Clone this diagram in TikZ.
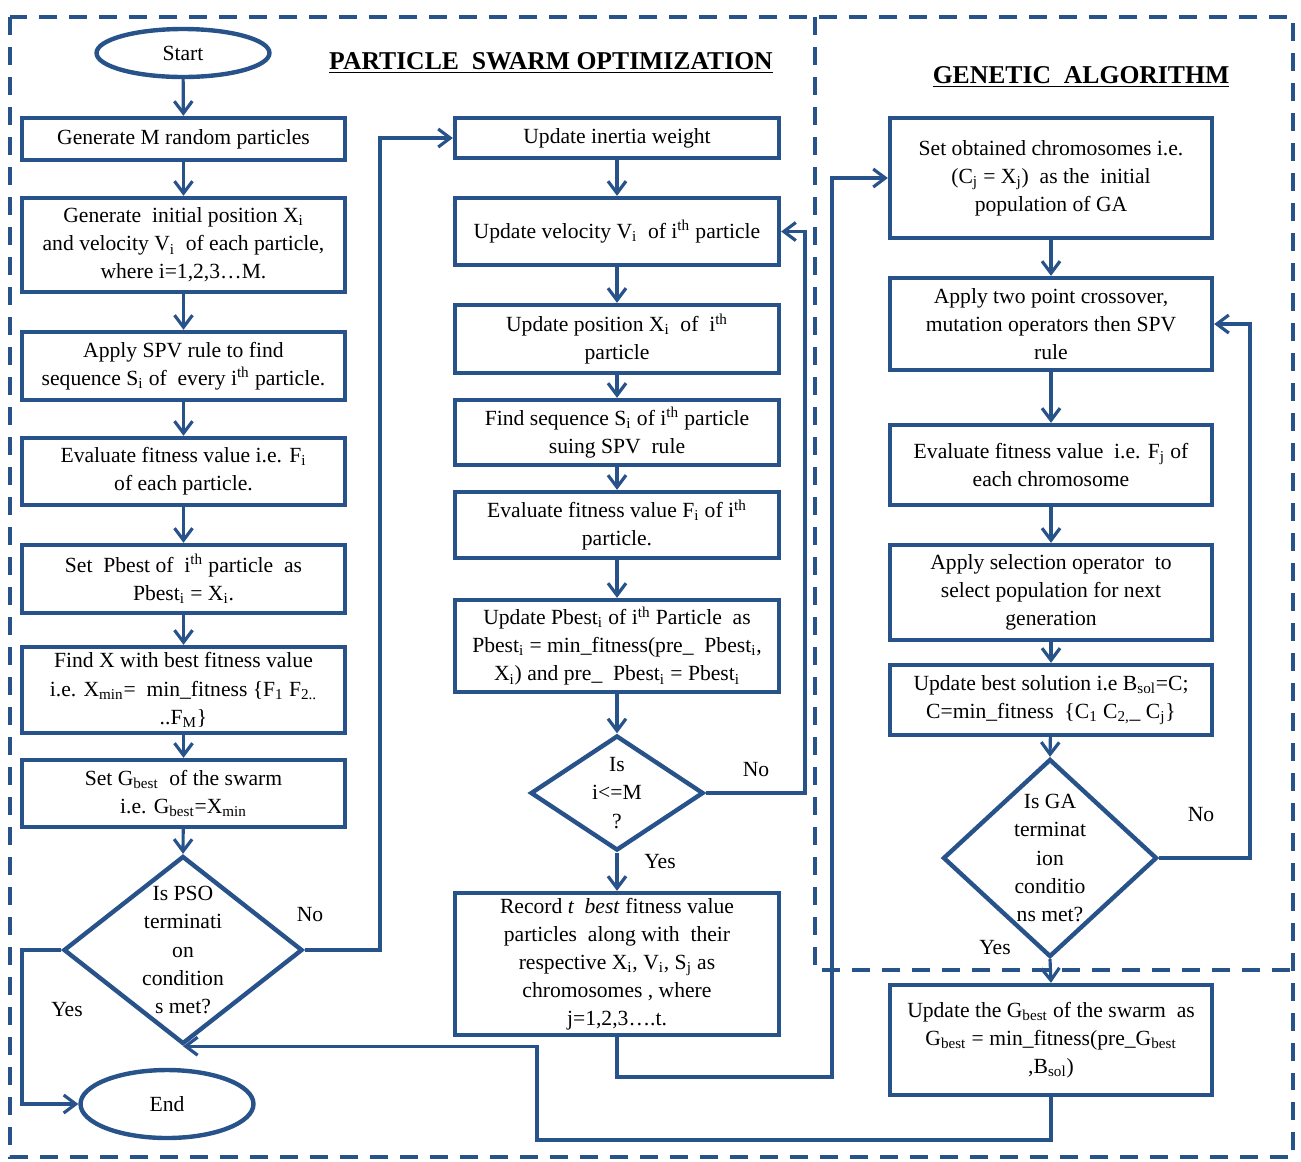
\documentclass[tikz,border=0pt]{standalone}
\usepackage{fontspec}
\setmainfont{Liberation Serif}
\usetikzlibrary{arrows.meta,shapes.geometric}
\definecolor{fb}{RGB}{40,82,138}
\begin{document}
\begin{tikzpicture}[x=0.02cm,y=-0.02cm,
  txt/.style={font=\fontsize{12.3}{16}\selectfont,align=center},
  box/.style={draw=fb,line width=2.5pt,txt,inner sep=1pt},
  lbox/.style={box,minimum width=6.46cm},
  mbox/.style={box,minimum width=6.48cm},
  rbox/.style={box,minimum width=6.44cm},
  term/.style={draw=fb,line width=2.5pt,ellipse,txt,inner sep=0pt,minimum width=3.46cm},
  dia/.style={draw=fb,line width=2.5pt,diamond,inner sep=0pt},
  conn/.style={draw=fb,line width=1.8pt,-{Straight Barb[length=0.24cm,width=0.36cm]}},
  frame/.style={draw=fb,line width=2.4pt,dash pattern=on 0.36cm off 0.24cm},
  title/.style={font=\fontsize{14.6}{16}\selectfont\bfseries},
  lab/.style={font=\fontsize{12.3}{14}\selectfont}]
\useasboundingbox (0,0) rectangle (1301,1161);
% frames
\draw[frame] (10,17) rectangle (1293,1157);
\draw[frame] (815,17) -- (815,970) -- (1293,970);
% titles
\node[title] (t1) at (551,63) {\underline{PARTICLE\ \ SWARM OPTIMIZATION}};
\node[title] (t2) at (1081,77) {\underline{GENETIC\ \ ALGORITHM}};
% left column
\node[term,minimum height=0.96cm] (start) at (183,53) {Start};
\node[lbox,minimum height=0.84cm] (b1) at (183.5,139) {Generate M random particles};
\node[lbox,minimum height=1.88cm] (b2) at (183.5,245) {Generate \ initial position X\textsubscript{i}\\ and velocity V\textsubscript{i} \ of each particle,\\ where i=1,2,3…M.};
\node[lbox,minimum height=1.36cm] (b3) at (183.5,366) {Apply SPV rule to find\\ sequence S\textsubscript{i} of \ every i\textsuperscript{th} particle.};
\node[lbox,minimum height=1.34cm] (b4) at (183.5,471.5) {Evaluate fitness value i.e. F\textsubscript{i}\\ of each particle.};
\node[lbox,minimum height=1.36cm] (b5) at (183.5,579) {Set \ Pbest of \ i\textsuperscript{th} particle \ as\\ Pbest\textsubscript{i} = X\textsubscript{i}.};
\node[lbox,minimum height=1.72cm] (b6) at (183.5,690) {Find X with best fitness value\\ i.e. X\textsubscript{min}= \ min\_fitness \{F\textsubscript{1} F\textsubscript{2..}\\ ..F\textsubscript{M}\}};
\node[lbox,minimum height=1.34cm] (b7) at (183.5,793.5) {Set G\textsubscript{best} \ of the swarm\\ i.e. G\textsubscript{best}=X\textsubscript{min}};
\node[dia,minimum width=4.78cm,minimum height=3.76cm] (d1) at (183,950) {};
\node[txt] (d1t) at (183,950) {Is PSO\\ terminati\\ on\\ condition\\ s met?};
\node[term,minimum height=1.36cm] (end) at (167,1104) {End};
% middle column
\node[mbox,minimum height=0.80cm] (m1) at (617,138) {Update inertia weight};
\node[mbox,minimum height=1.34cm] (m2) at (617,231.5) {Update velocity V\textsubscript{i} \ of i\textsuperscript{th} particle};
\node[mbox,minimum height=1.36cm] (m3) at (617,339) {Update position X\textsubscript{i} \ of \ i\textsuperscript{th}\\ particle};
\node[mbox,minimum height=1.30cm] (m4) at (617,432.5) {Find sequence S\textsubscript{i} of i\textsuperscript{th} particle\\ suing SPV \ rule};
\node[mbox,minimum height=1.32cm] (m5) at (617,525) {Evaluate fitness value F\textsubscript{i} of i\textsuperscript{th}\\ particle.};
\node[mbox,minimum height=1.84cm] (m6) at (617,646) {Update Pbest\textsubscript{i} of i\textsuperscript{th} Particle \ as\\ Pbest\textsubscript{i} = min\_fitness(pre\_ \ Pbest\textsubscript{i},\\ X\textsubscript{i}) and pre\_ \ Pbest\textsubscript{i} = Pbest\textsubscript{i}};
\node[dia,minimum width=3.46cm,minimum height=2.30cm] (d2) at (617,793) {};
\node[txt] (d2t) at (617,793) {Is\\ i<=M\\ ?};
\node[mbox,minimum height=2.84cm] (m7) at (617,964) {Record \textit{t \ best} fitness value\\ particles \ along with \ their\\ respective X\textsubscript{i}, V\textsubscript{i}, S\textsubscript{j} as\\ chromosomes , where\\ j=1,2,3….t.};
% right column
\node[rbox,minimum height=2.40cm] (r1) at (1051,178) {Set obtained chromosomes i.e.\\ (C\textsubscript{j} = X\textsubscript{j}) \ as the \ initial\\ population of GA};
\node[rbox,minimum height=1.84cm] (r2) at (1051,324) {Apply two point crossover,\\ mutation operators then SPV\\ rule};
\node[rbox,minimum height=1.60cm] (r3) at (1051,465) {Evaluate fitness value \ i.e. F\textsubscript{j} of\\ each chromosome};
\node[rbox,minimum height=1.90cm] (r4) at (1051,592.5) {Apply selection operator \ to\\ select population for next\\ generation};
\node[rbox,minimum height=1.40cm] (r5) at (1051,700) {Update best solution i.e B\textsubscript{sol}=C;\\ C=min\_fitness \ \{C\textsubscript{1} C\textsubscript{2,}\_ C\textsubscript{j}\}};
\node[dia,minimum width=4.28cm,minimum height=3.96cm] (d3) at (1050,858) {};
\node[txt] (d3t) at (1050,858) {Is GA\\ terminat\\ ion\\ conditio\\ ns met?};
\node[rbox,minimum height=2.20cm] (r6) at (1051,1040) {Update the G\textsubscript{best} of the swarm \ as\\ G\textsubscript{best} = min\_fitness(pre\_G\textsubscript{best}\\ ,B\textsubscript{sol})};
% coordinates
\coordinate (n1) at (380,950);
\coordinate (y1) at (22,950);
\coordinate (n2) at (805,793);
\coordinate (c1) at (832,1077);
\coordinate (n3) at (1250,858);
\coordinate (c2) at (537,1140);
% left connectors
\draw[conn] (start) -- (b1);
\draw[conn] (b1) -- (b2);
\draw[conn] (b2) -- (b3);
\draw[conn] (b3) -- (b4);
\draw[conn] (b4) -- (b5);
\draw[conn] (b5) -- (b6);
\draw[conn] (b6) -- (b7);
\draw[conn] (b7) -- (d1.north);
\draw[conn] (d1.east) -- (n1) |- (m1.west);
\draw[conn] (d1.west) -- (y1) |- (end.west);
% middle connectors
\draw[conn] (m1) -- (m2);
\draw[conn] (m2) -- (m3);
\draw[conn] (m3) -- (m4);
\draw[conn] (m4) -- (m5);
\draw[conn] (m5) -- (m6);
\draw[conn] (m6) -- (d2.north);
\draw[conn] (d2.east) -- (n2) |- (m2.east);
\draw[conn] (d2.south) -- (m7.north);
\draw[conn] (m7.south) |- (c1) |- (r1.west);
% right connectors
\draw[conn] (r1) -- (r2);
\draw[conn] (r2) -- (r3);
\draw[conn] (r3) -- (r4);
\draw[conn] (r4) -- (r5);
\draw[conn] (r5) -- (d3.north);
\draw[conn] (d3.east) -- (n3) |- (r2.east);
\draw[conn] (d3.south) -- (r6.north);
\draw[conn] (r6.south) |- (c2) |- (d1.south);
% labels
\node[lab] (l1) at (310,915) {No};
\node[lab] (l2) at (67,1010) {Yes};
\node[lab] (l3) at (756,770) {No};
\node[lab] (l4) at (660,862) {Yes};
\node[lab] (l5) at (1201,815) {No};
\node[lab] (l6) at (995,948) {Yes};
\end{tikzpicture}
\end{document}
